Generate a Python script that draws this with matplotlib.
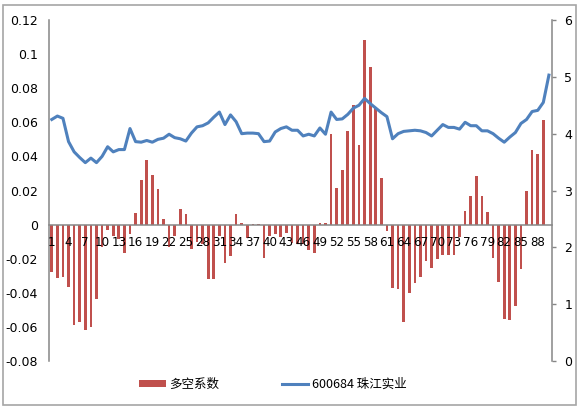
import numpy as np
import matplotlib
matplotlib.use('Agg')
import matplotlib.pyplot as plt
from matplotlib.patches import Rectangle

plt.rcParams['font.family'] = ['DejaVu Sans', 'Noto Sans CJK SC']

# 数据
categorias = list(range(1, 91))
etiquetas_x = [str(i) for i in range(1, 91, 3)]

# 多空系数 (eje izquierdo); el punto 90 no tiene barra
duokong = [-0.028, -0.0316, -0.0306, -0.0365, -0.059, -0.057, -0.0619, -0.0603, -0.0437, -0.013,
           -0.003, -0.0068, -0.0082, -0.0164, -0.0057, 0.0069, 0.0264, 0.0378, 0.0291, 0.0209,
           0.0035, -0.0131, -0.0069, 0.0094, 0.0060, -0.0143, -0.0104, -0.0113, -0.0321, -0.0321,
           -0.0069, -0.0224, -0.0185, 0.0060, 0.0012, -0.0080, 0.0005, 0.0005, -0.0195, -0.0065,
           -0.0055, -0.0070, -0.0047, -0.0108, -0.0114, -0.0114, -0.0148, -0.0168, 0.0008, 0.0008,
           0.0532, 0.0215, 0.0318, 0.0550, 0.0703, 0.0467, 0.1083, 0.0925, 0.0686, 0.0274,
           -0.0038, -0.0372, -0.0380, -0.0572, -0.0400, -0.0340, -0.0306, -0.0213, -0.0254, -0.0202,
           -0.0176, -0.0177, -0.0176, -0.0075, 0.0078, 0.0167, 0.0283, 0.0167, 0.0072, -0.0195,
           -0.0336, -0.0551, -0.0557, -0.0475, -0.0262, 0.0199, 0.0440, 0.0412, 0.0611, np.nan]

# 600684 珠江实业 (eje derecho)
precio = [4.25, 4.31, 4.27, 3.86, 3.68, 3.58, 3.49, 3.57, 3.49, 3.60,
          3.77, 3.68, 3.72, 3.72, 4.09, 3.86, 3.85, 3.88, 3.85, 3.90,
          3.92, 3.99, 3.93, 3.91, 3.87, 4.01, 4.12, 4.14, 4.19, 4.29,
          4.38, 4.16, 4.33, 4.21, 4.00, 4.01, 4.01, 4.00, 3.86, 3.87,
          4.03, 4.09, 4.12, 4.06, 4.06, 3.96, 3.99, 3.96, 4.10, 3.99,
          4.38, 4.25, 4.26, 4.34, 4.45, 4.50, 4.62, 4.53, 4.45, 4.37,
          4.30, 3.91, 4.00, 4.04, 4.05, 4.06, 4.05, 4.02, 3.96, 4.06,
          4.16, 4.11, 4.11, 4.08, 4.20, 4.14, 4.14, 4.05, 4.05, 4.00,
          3.92, 3.85, 3.94, 4.02, 4.18, 4.25, 4.39, 4.41, 4.55, 5.03]

ticks_izq = [-0.08, -0.06, -0.04, -0.02, 0, 0.02, 0.04, 0.06, 0.08, 0.1, 0.12]
etiquetas_izq = ['-0.08', '-0.06', '-0.04', '-0.02', '0', '0.02', '0.04', '0.06', '0.08', '0.1', '0.12']
ticks_der = [0, 1, 2, 3, 4, 5, 6]

gris = '#868686'
rojo = '#C0504D'
azul = '#4F81BD'

fig = plt.figure(figsize=(5.81, 4.12), dpi=100, facecolor='white')
W, H = 581.0, 412.0

# marco del gráfico
fig.patches.append(Rectangle((3 / W, 1 - 405 / H), 573 / W, 400 / H, transform=fig.transFigure,
                             fill=False, edgecolor='#A6A6A6', linewidth=1.2))

ax = fig.add_axes([49 / W, 1 - 361 / H, (551.7 - 49) / W, (361 - 20) / H])
ax.bar(categorias, duokong, width=0.48, color=rojo, label='多空系数', zorder=2)
ax.set_axisbelow(False)
ax.set_xlim(0.5, 90.5)
ax.set_ylim(-0.08, 0.12)
ax.set_yticks(ticks_izq)
ax.set_yticklabels(etiquetas_izq)
ax.set_xticks(range(1, 91, 3))
ax.set_xticklabels(etiquetas_x)
ax.tick_params(axis='y', length=0, pad=8, labelsize=9)
ax.tick_params(axis='x', length=0, pad=8, labelsize=8.6)
ax.spines['bottom'].set_position(('data', 0))
ax.spines['bottom'].set_color(gris)
ax.spines['bottom'].set_linewidth(1.1)
ax.spines['bottom'].set_zorder(3)
ax.spines['left'].set_color(gris)
ax.spines['left'].set_linewidth(1.1)
ax.spines['top'].set_visible(False)
ax.spines['right'].set_visible(False)

ax2 = ax.twinx()
ax2.plot(categorias, precio, color=azul, linewidth=2.2, label='600684 珠江实业', zorder=4)
ax2.set_ylim(0, 6)
ax2.set_yticks(ticks_der)
ax2.tick_params(axis='y', direction='out', length=3, width=1, color=gris, pad=6, labelsize=9)
for lado in ['top', 'bottom', 'left']:
    ax2.spines[lado].set_visible(False)
ax2.spines['right'].set_color(gris)
ax2.spines['right'].set_linewidth(1.1)

h1, l1 = ax.get_legend_handles_labels()
h2, l2 = ax2.get_legend_handles_labels()
fig.legend(h1 + h2, l1 + l2, loc='center', bbox_to_anchor=(273 / W, 1 - 384 / H), ncol=2,
           frameon=False, fontsize=9, handlelength=2.1, handleheight=0.5, handletextpad=0.3,
           columnspacing=5.0, prop={'family': ['Noto Sans CJK SC', 'DejaVu Sans'], 'size': 9})

fig.savefig('out.png', dpi=100, facecolor='white')
